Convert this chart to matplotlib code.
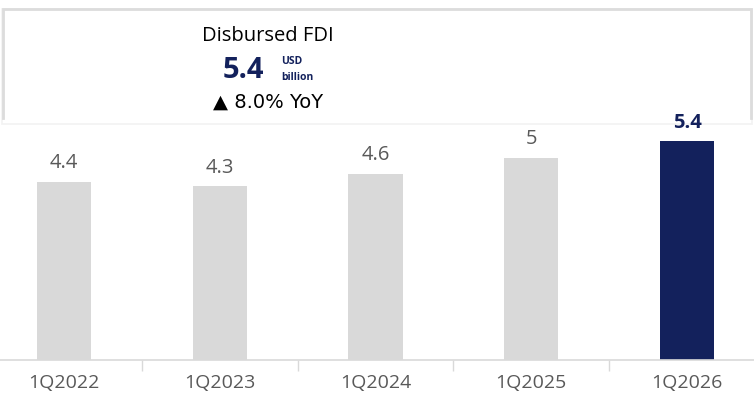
import matplotlib.pyplot as plt
from matplotlib.patches import Rectangle

plt.rcParams['font.family'] = ['Open Sans', 'DejaVu Sans']

quarters = ['1Q2022', '1Q2023', '1Q2024', '1Q2025', '1Q2026']
fdi = [4.4, 4.3, 4.6, 5, 5.4]
labels = ['4.4', '4.3', '4.6', '5', '5.4']

grey = '#d9d9d9'
navy = '#13215c'
txt = '#595959'

fig = plt.figure(figsize=(7.54, 4.01), dpi=100)
ax = fig.add_axes([0, 41 / 401, 1, 360 / 401])

x = range(len(quarters))
colors = [grey] * (len(fdi) - 1) + [navy]
ax.bar(x, fdi, width=0.347, color=colors, zorder=2)

for i, (v, lab) in enumerate(zip(fdi, labels)):
    last = i == len(fdi) - 1
    ax.annotate(lab, (i, v), xytext=(0, 6), textcoords='offset points',
                ha='center', va='bottom', fontsize=14.5,
                color=navy if last else txt,
                fontweight='bold' if last else 'normal', zorder=5)

ax.set_xlim(-0.411, 4.43)
ax.set_ylim(0, 360 / 40.5)
ax.set_xticks(list(x))
ax.set_xticklabels(quarters, fontsize=14, color=txt)
ax.set_xticks([0.5, 1.5, 2.5, 3.5], minor=True)
ax.tick_params(axis='x', which='major', length=0, pad=10)
ax.tick_params(axis='x', which='minor', length=8, color=grey, width=1)
ax.set_yticks([])
for s in ['top', 'right', 'left']:
    ax.spines[s].set_visible(False)
ax.spines['bottom'].set_color(grey)
ax.spines['bottom'].set_linewidth(1.2)

# summary box: white panel, grey top/left/right edges, faint bottom
panel = Rectangle((2 / 754, 1 - 124 / 401), 750 / 754, 115 / 401,
                  transform=fig.transFigure, facecolor='white',
                  edgecolor='#f2f2f2', linewidth=1.2, zorder=3, clip_on=False)
ax.add_patch(panel)
bx0, bx1 = 3 / 754, 751 / 754
by0, by1 = 1 - 118 / 401, 1 - 9 / 401
ax.plot([bx0, bx0, bx1, bx1], [by0, by1, by1, by0], color='#dcdcdc', lw=2,
        transform=fig.transFigure, clip_on=False, zorder=4,
        solid_joinstyle='miter')

fig.text(268 / 754, 1 - 36 / 401, 'Disbursed FDI', ha='center', va='center',
         fontsize=14.5, color='black', zorder=6)
fig.text(264 / 754, 1 - 70 / 401, '5.4', ha='right', va='center',
         fontsize=21, fontweight='bold', color=navy)
fig.text(281 / 754, 1 - 61 / 401, 'USD', ha='left', va='center',
         fontsize=7.5, fontweight='bold', color=navy)
fig.text(281 / 754, 1 - 77 / 401, 'billion', ha='left', va='center',
         fontsize=7.5, fontweight='bold', color=navy)
fig.text(268 / 754, 1 - 102 / 401, '\u25b2 8.0% YoY', ha='center', va='center',
         fontsize=14, color='black', family=['DejaVu Sans'])

fig.savefig('out.png', dpi=100)
